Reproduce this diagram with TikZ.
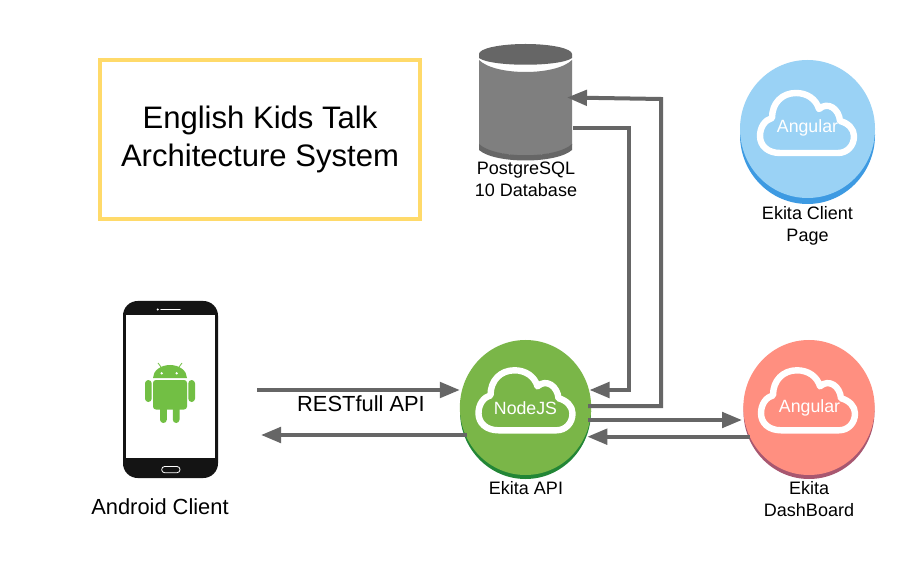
\documentclass[tikz,border=0pt]{standalone}
\usepackage{fontspec}
\setmainfont{Liberation Sans}
\usetikzlibrary{arrows.meta,positioning,shapes.geometric}
\definecolor{flowgray}{HTML}{666666}
\definecolor{titleyellow}{HTML}{FFDA6A}
\definecolor{dbbody}{HTML}{7F7F7F}
\definecolor{dbdark}{HTML}{666666}
\definecolor{apilight}{HTML}{7AB648}
\definecolor{apidark}{HTML}{228636}
\definecolor{dashlight}{HTML}{FF8F80}
\definecolor{dashdark}{HTML}{A85770}
\definecolor{clientlight}{HTML}{9AD2F5}
\definecolor{clientdark}{HTML}{3D9AE2}
\definecolor{droid}{HTML}{72BF44}
\definecolor{phoneblack}{HTML}{141414}
\tikzset{
  x=0.75pt,y=-0.75pt,
  flow/.style={draw=flowgray,line width=3pt,-{Triangle[length=15pt,width=11.5pt]}},
  disc/.style={ellipse,minimum width=98.5pt,minimum height=101.25pt,inner sep=0pt,outer sep=0pt},
  label/.style={align=center,font=\fontsize{13.5pt}{16.3pt}\selectfont,text=black,inner sep=0pt},
  biglabel/.style={label,font=\fontsize{16.4pt}{19pt}\selectfont},
  cloudtext/.style={text=white,inner sep=0pt,font=\fontsize{13.3pt}{16pt}\selectfont},
  cloudshape/.pic={
    \draw[white,line width=4.8pt,line join=round]
      (-27,30) .. controls (-39,30) and (-47,23) .. (-47,13)
      .. controls (-47,4) and (-42,-3) .. (-35,-5)
      .. controls (-35,-20) and (-25,-30) .. (-11,-30)
      .. controls (0,-30) and (9,-24) .. (12,-14)
      .. controls (21,-22) and (32,-14) .. (33,-2)
      .. controls (41,0) and (47,6) .. (47,13)
      .. controls (47,23) and (40,30) .. (31,30) -- cycle;
  }
}
\begin{document}
\begin{tikzpicture}
\useasboundingbox (0,0) rectangle (916,580);
\fill[white] (0,0) rectangle (916,580);

% title
\node[draw=titleyellow,line width=3pt,minimum width=240pt,minimum height=119.5pt,inner sep=0pt,
      align=center,font=\fontsize{23.3pt}{28.5pt}\selectfont] (title) at (260,139.5)
      {English Kids Talk\\Architecture System};

% database
\fill[dbdark] (479,54) arc[x radius=46.5,y radius=10,start angle=180,end angle=360] -- (572,58)
   .. controls (560,67) and (491,67) .. (479,58) -- cycle;
\fill[dbbody] (479,60) .. controls (495,76) and (556,76) .. (572,60) -- (572,145)
   .. controls (556,159) and (495,159) .. (479,145) -- cycle;
\fill[dbdark] (479,144) .. controls (495,159) and (556,159) .. (572,144) -- (572,150)
   .. controls (556,164) and (495,164) .. (479,150) -- cycle;
\node[inner sep=0pt,minimum width=69.75pt,minimum height=87pt] (db) at (525.5,102) {};
\node[label] (dblabel) at (526,179) {PostgreSQL\\10 Database};

% client page
\fill[clientdark] (807.5,135) ellipse[x radius=67.5,y radius=69];
\node[ellipse,minimum width=101.25pt,minimum height=103.5pt,inner sep=0pt,outer sep=0pt,fill=clientlight] (client) at (807.5,129) {};
\pic at (807,123) {cloudshape};
\node[cloudtext] at (807.5,128) {Angular};
\node[label] (clientlabel) at (807.5,225.5) {Ekita Client\\Page};

% api
\fill[apidark] (525.5,411.5) ellipse[x radius=65.5,y radius=67.5];
\node[disc,fill=apilight] (api) at (525.5,407.5) {};
\pic at (525.5,400.3) {cloudshape};
\node[cloudtext] at (525.5,408) {NodeJS};
\node[label] (apilabel) at (526,488) {Ekita API};

% dashboard
\fill[dashdark] (809,411.5) ellipse[x radius=65.5,y radius=67.5];
\node[disc,fill=dashlight] (dash) at (809,407.5) {};
\pic at (808,400.3) {cloudshape};
\node[cloudtext] at (809.5,408) {Angular};
\node[label] (dashlabel) at (809,499) {Ekita\\DashBoard};

% phone
\fill[phoneblack,rounded corners=11pt] (123,301) rectangle (218,478);
\node[fill=white,inner sep=0pt,minimum width=66.5pt,minimum height=107.5pt] (phone) at (170.5,386.5) {};
\fill[white] (157.7,309.5) circle[radius=1.2];
\draw[white,line width=1pt,line cap=round] (161,309.5) -- (180,309.5);
\draw[white,line width=0.6pt,rounded corners=2.2pt] (161.7,466.5) rectangle (180,472.7);
% android
\begin{scope}[droid]
\fill (153,378) arc[x radius=17,y radius=13,start angle=180,end angle=360] -- cycle;
\draw[line width=0.6pt] (161,367) -- (158,363) (179,367) -- (182,363);
\fill[rounded corners=2.2pt] (153,380) -- (187,380) -- (187,409.5) -- (153,409.5) -- cycle;
\fill[rounded corners=2.5pt] (145,380) rectangle (151.7,402);
\fill[rounded corners=2.5pt] (188.3,380) rectangle (195,402);
\fill[rounded corners=2.5pt] (160,400) rectangle (166.8,423);
\fill[rounded corners=2.5pt] (172.8,400) rectangle (179.5,423);
\fill[white] (161.7,373.3) circle[radius=1.3] (176.7,373.3) circle[radius=1.3];
\end{scope}
\node[biglabel] (phonelabel) at (160,507) {Android Client};

% connector ends
\coordinate (restin) at (257,390);
\coordinate (restout) at (261,435);
\coordinate (dbout) at (573,128);
\coordinate (dbin) at (567,97.5);
\coordinate (apiin) at (589.5,390);
\coordinate (apiout) at (588,406);
\coordinate (apitodash) at (588,420);
\coordinate (dashin) at (742,420);
\coordinate (dashout) at (750,436.7);
\coordinate (apifromdash) at (587.3,436.7);
\coordinate (apiback) at (466.7,435);

\draw[flow] (restin) -- (api.west |- restin);
\draw[flow] (apiback) -- (restout);
\node[biglabel] (rest) at (361,404) {RESTfull API};
\draw[flow] (dbout) -- (629,128) -- (629,390) -- (apiin);
\draw[flow] (apiout) -- (661,406) -- (661,99) -- (dbin);
\draw[flow] (apitodash) -- (dashin);
\draw[flow] (dashout) -- (apifromdash);
\end{tikzpicture}
\end{document}
